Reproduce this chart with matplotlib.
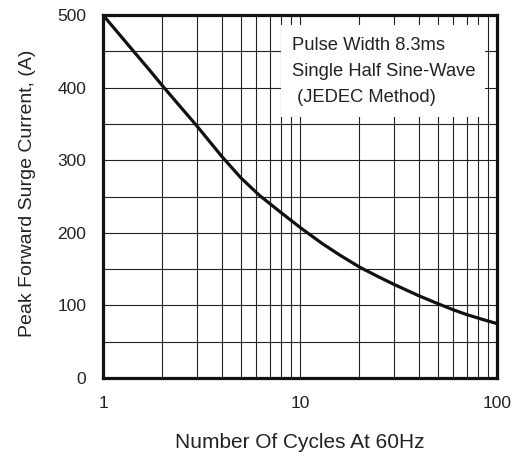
import numpy as np
import matplotlib
matplotlib.use("Agg")
import matplotlib.pyplot as plt
from matplotlib.patches import Rectangle

# values
cycles = [1, 1.2, 1.43, 1.7, 2.04, 2.5, 3, 4, 5, 6.2, 8, 10, 13, 16, 20,
          25, 30, 40, 50, 60, 70, 85, 100]
surge_current = [500, 474.5, 450, 426, 400, 372, 347, 305.5, 276, 252, 228,
                 207.5, 185, 169, 153, 139.5, 129, 113.5, 102.5, 94, 87.5,
                 80.5, 75]

x_ticks = [1, 10, 100]
x_tick_labels = ["1", "10", "100"]
y_ticks = [0, 100, 200, 300, 400, 500]
note_lines = ["Pulse Width 8.3ms", "Single Half Sine-Wave", " (JEDEC Method)"]

plt.rcParams["font.family"] = ["Liberation Sans", "DejaVu Sans"]

fig = plt.figure(figsize=(5.21, 4.61), dpi=100)
ax = fig.add_axes([0.198, 0.180, 0.756, 0.787])

ax.set_xscale("log")
ax.set_xlim(1, 100)
ax.set_ylim(0, 500)

# grid: every integer on the log axis, every 50 A
for d in [1, 10]:
    for m in range(2, 10):
        ax.axvline(d * m, color="#222222", lw=0.8, zorder=1)
ax.axvline(10, color="#222222", lw=0.8, zorder=1)
for v in range(50, 500, 50):
    ax.axhline(v, color="#222222", lw=0.8, zorder=1)

# white box behind the note
ax.add_patch(Rectangle((281 / 521, 1 - 117 / 461), 204 / 521, 92 / 461,
                       transform=fig.transFigure, facecolor="white",
                       edgecolor="none", zorder=2))
for i, line in enumerate(note_lines):
    fig.text(292 / 521, 1 - (45 + 26.5 * i) / 461, line, fontsize=13.2,
             ha="left", va="center", color="#222222", zorder=3)

ax.plot(cycles, surge_current, color="#111111", lw=2.3, zorder=4,
        solid_capstyle="butt", solid_joinstyle="round")

for s in ax.spines.values():
    s.set_linewidth(2.3)
    s.set_color("#111111")
    s.set_zorder(5)

ax.set_xticks(x_ticks)
ax.set_xticklabels(x_tick_labels)
ax.xaxis.set_minor_locator(matplotlib.ticker.NullLocator())
ax.set_yticks(y_ticks)
ax.tick_params(length=0, labelsize=12.5, colors="#222222")
ax.tick_params(axis="x", pad=13)
ax.tick_params(axis="y", pad=12)

ax.set_xlabel("Number Of Cycles At 60Hz", fontsize=15, color="#222222", labelpad=16)
ax.set_ylabel("Peak Forward Surge Current, (A)", fontsize=14, color="#222222")
ax.yaxis.set_label_coords(-0.17, 0.51)

fig.savefig("out.png", dpi=100)
